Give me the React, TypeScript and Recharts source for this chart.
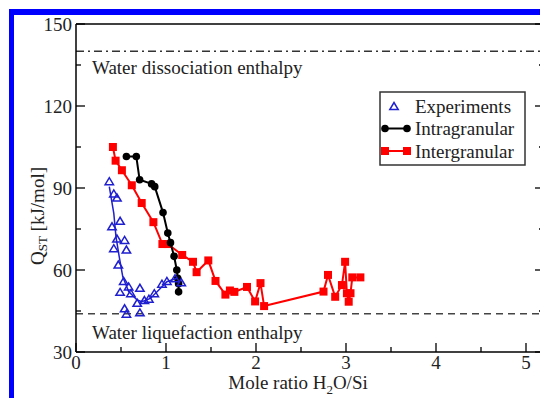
import React from 'react';
import { ComposedChart, XAxis, YAxis, Scatter, ReferenceLine } from 'recharts';

// Isosteric heat of adsorption vs. water loading
const experiments = [
  { x: 0.37, y: 92.5 }, { x: 0.42, y: 88 }, { x: 0.455, y: 86.5 }, { x: 0.4, y: 76 },
  { x: 0.49, y: 78 }, { x: 0.455, y: 71.5 }, { x: 0.54, y: 71 }, { x: 0.42, y: 68 },
  { x: 0.56, y: 67.5 }, { x: 0.47, y: 62 }, { x: 0.53, y: 56 }, { x: 0.585, y: 54 },
  { x: 0.49, y: 52 }, { x: 0.61, y: 51.5 }, { x: 0.71, y: 53.5 }, { x: 0.68, y: 48 },
  { x: 0.76, y: 49 }, { x: 0.81, y: 49.5 }, { x: 0.87, y: 51.5 }, { x: 0.54, y: 46 },
  { x: 0.56, y: 44 }, { x: 0.71, y: 44.5 }, { x: 0.955, y: 55 }, { x: 1.01, y: 56 },
  { x: 1.1, y: 57 }, { x: 1.17, y: 55.5 },
];

const experimentsFit = [
  { x: 0.37, y: 90.5 }, { x: 0.42, y: 80.7 }, { x: 0.444, y: 72.2 }, { x: 0.48, y: 64.9 },
  { x: 0.52, y: 57.5 }, { x: 0.585, y: 52.1 }, { x: 0.68, y: 49 }, { x: 0.733, y: 48.4 },
  { x: 0.826, y: 49.6 }, { x: 0.92, y: 52.7 }, { x: 1.01, y: 55.7 }, { x: 1.12, y: 57 },
];

const intragranular = [
  { x: 0.56, y: 101.5 }, { x: 0.67, y: 101.5 }, { x: 0.707, y: 93 }, { x: 0.84, y: 91.5 },
  { x: 0.875, y: 90.5 }, { x: 0.967, y: 81 }, { x: 1.02, y: 73.5 }, { x: 1.05, y: 70 },
  { x: 1.09, y: 65 }, { x: 1.12, y: 60 }, { x: 1.13, y: 57 }, { x: 1.14, y: 55 },
  { x: 1.14, y: 52 },
];

const intergranular = [
  { x: 0.41, y: 105 }, { x: 0.44, y: 100 }, { x: 0.51, y: 96.5 }, { x: 0.62, y: 91 },
  { x: 0.73, y: 84.5 }, { x: 0.86, y: 77.5 }, { x: 0.96, y: 69.5 }, { x: 1.02, y: 69.5 },
  { x: 1.18, y: 65.5 }, { x: 1.3, y: 63 }, { x: 1.34, y: 59.2 }, { x: 1.47, y: 63.5 },
  { x: 1.55, y: 56 }, { x: 1.66, y: 51 }, { x: 1.71, y: 52.5 }, { x: 1.76, y: 52 },
  { x: 1.9, y: 53.8 }, { x: 1.99, y: 48.5 }, { x: 2.05, y: 55.2 }, { x: 2.09, y: 46.8 },
  { x: 2.75, y: 52.1 }, { x: 2.8, y: 58.2 }, { x: 2.88, y: 50.2 }, { x: 2.955, y: 54.5 },
  { x: 2.99, y: 63 }, { x: 3.01, y: 51.5 }, { x: 3.03, y: 48.4 }, { x: 3.05, y: 51.5 },
  { x: 3.07, y: 57.3 }, { x: 3.16, y: 57.3 },
];

const xTicks = [0, 0.5, 1, 1.5, 2, 2.5, 3, 3.5, 4, 4.5, 5];
const yTicks = [30, 45, 60, 75, 90, 105, 120, 135, 150];
const xDomain: [number, number] = [0, 5.2];
const yDomain: [number, number] = [30, 150];

const dissociationEnthalpy = 140;
const liquefactionEnthalpy = 44;

const FONT = '"Liberation Serif", "Times New Roman", serif';
const BLUE = '#1f1fd0';
const RED = '#ff0000';
const FS = 19;

const TriangleMark = (p: any) => {
  const { cx, cy } = p;
  if (cx == null || cy == null) return <g />;
  const w = 4.2;
  const h = 7;
  return (
    <polygon
      points={`${cx - w},${cy + h / 2} ${cx + w},${cy + h / 2} ${cx},${cy - h / 2}`}
      fill="none"
      stroke={BLUE}
      strokeWidth={1.5}
    />
  );
};

const SquareMark = (p: any) => {
  const { cx, cy } = p;
  if (cx == null || cy == null) return <g />;
  const s = 8;
  return <rect x={cx - s / 2} y={cy - s / 2} width={s} height={s} fill={RED} />;
};

const CircleMark = (p: any) => {
  const { cx, cy } = p;
  if (cx == null || cy == null) return <g />;
  return <circle cx={cx} cy={cy} r={3.8} fill="#000" />;
};

const NoMark = () => <g />;

const isMajor = (v: number) => Number.isInteger(v);

const BottomTick = (p: any) => {
  const { x, y, payload } = p;
  const major = isMajor(payload.value);
  return (
    <g>
      <line x1={x} x2={x} y1={y} y2={y - (major ? 9 : 5)} stroke="#000" strokeWidth={1.3} />
      {major && (
        <text x={x} y={y + 17} textAnchor="middle" fontFamily={FONT} fontSize={FS} fill="#222">
          {payload.value}
        </text>
      )}
    </g>
  );
};

const TopTick = (p: any) => {
  const { x, y, payload } = p;
  const major = isMajor(payload.value);
  return <line x1={x} x2={x} y1={y} y2={y + (major ? 9 : 5)} stroke="#000" strokeWidth={1.3} />;
};

const LeftTick = (p: any) => {
  const { x, y, payload } = p;
  const major = payload.value % 30 === 0;
  return (
    <g>
      <line x1={x} x2={x + (major ? 9 : 5)} y1={y} y2={y} stroke="#000" strokeWidth={1.3} />
      {major && (
        <text x={x - 4} y={y} textAnchor="end" dominantBaseline="central" fontFamily={FONT} fontSize={FS} fill="#222">
          {payload.value}
        </text>
      )}
    </g>
  );
};

const RightTick = (p: any) => {
  const { x, y, payload } = p;
  const major = payload.value % 30 === 0;
  return <line x1={x} x2={x - (major ? 9 : 5)} y1={y} y2={y} stroke="#000" strokeWidth={1.3} />;
};

const XTitle = (p: any) => {
  const vb = p.viewBox;
  const cx = vb.x + vb.width / 2 - 12;
  return (
    <text x={cx} y={vb.y + 37} textAnchor="middle" fontFamily={FONT} fontSize={FS} fill="#222">
      Mole ratio H<tspan dy={5} fontSize={13}>2</tspan>
      <tspan dy={-5}>O/Si</tspan>
    </text>
  );
};

const YTitle = (p: any) => {
  const vb = p.viewBox;
  const cx = vb.x + 37;
  const cy = vb.y + vb.height / 2 + 28;
  return (
    <text
      x={cx}
      y={cy}
      transform={`rotate(-90 ${cx} ${cy})`}
      textAnchor="middle"
      dominantBaseline="central"
      fontFamily={FONT}
      fontSize={FS}
      fill="#222"
    >
      Q<tspan dy={5} fontSize={13}>ST</tspan>
      <tspan dy={-5}> [kJ/mol]</tspan>
    </text>
  );
};

const lineLabel = (text: string, dy: number) => (p: any) => {
  const vb = p.viewBox;
  return (
    <text x={vb.x + 16} y={vb.y + dy} fontFamily={FONT} fontSize={FS} fill="#222">
      {text}
    </text>
  );
};

const legendItems = [
  { name: 'Experiments', kind: 'tri' },
  { name: 'Intragranular', kind: 'circle' },
  { name: 'Intergranular', kind: 'square' },
];

const LegendBox = () => (
  <svg width={148} height={76} style={{ display: 'block' }}>
    <rect x={1} y={1} width={145} height={73} fill="#fff" stroke="#333" strokeWidth={1.5} />
    {legendItems.map((it, i) => {
      const y = 15 + i * 22.5;
      return (
        <g key={it.name}>
          {it.kind === 'tri' && <TriangleMark cx={15} cy={y} />}
          {it.kind === 'circle' && (
            <g>
              <line x1={6} x2={28} y1={y} y2={y} stroke="#000" strokeWidth={2} />
              <CircleMark cx={6} cy={y} />
              <CircleMark cx={28} cy={y} />
            </g>
          )}
          {it.kind === 'square' && (
            <g>
              <line x1={6} x2={28} y1={y} y2={y} stroke={RED} strokeWidth={2} />
              <SquareMark cx={6} cy={y} />
              <SquareMark cx={28} cy={y} />
            </g>
          )}
          <text x={36} y={y} dominantBaseline="central" fontFamily={FONT} fontSize={FS} fill="#222">
            {it.name}
          </text>
        </g>
      );
    })}
  </svg>
);

export default function App() {
  return (
    <div
      style={{
        position: 'fixed',
        left: 0,
        top: 0,
        width: 540,
        height: 398,
        overflow: 'hidden',
        background: '#fff',
      }}
    >
      <div style={{ position: 'absolute', left: 0, top: 0 }}>
        <ComposedChart
          width={560}
          height={398}
          margin={{ top: 14, right: 15, bottom: 0, left: 0 }}
        >
          <XAxis
            xAxisId="b"
            dataKey="x"
            type="number"
            domain={xDomain}
            ticks={xTicks}
            interval={0}
            allowDataOverflow
            tickSize={0}
            tickMargin={0}
            tickLine={false}
            axisLine={{ stroke: '#000', strokeWidth: 1.5 }}
            height={46}
            tick={(p: any) => <BottomTick {...p} />}
            label={{ content: XTitle }}
          />
          <XAxis
            xAxisId="t"
            orientation="top"
            type="number"
            domain={xDomain}
            ticks={xTicks}
            interval={0}
            allowDataOverflow
            tickSize={0}
            tickMargin={0}
            tickLine={false}
            axisLine={{ stroke: '#000', strokeWidth: 1.5 }}
            height={10}
            tick={(p: any) => <TopTick {...p} />}
          />
          <YAxis
            yAxisId="l"
            dataKey="y"
            type="number"
            domain={yDomain}
            ticks={yTicks}
            interval={0}
            allowDataOverflow
            tickSize={0}
            tickMargin={0}
            tickLine={false}
            axisLine={{ stroke: '#000', strokeWidth: 1.5 }}
            width={76}
            tick={(p: any) => <LeftTick {...p} />}
            label={{ content: YTitle }}
          />
          <YAxis
            yAxisId="r"
            orientation="right"
            type="number"
            domain={yDomain}
            ticks={yTicks}
            interval={0}
            allowDataOverflow
            tickSize={0}
            tickMargin={0}
            tickLine={false}
            axisLine={{ stroke: '#000', strokeWidth: 1.5 }}
            width={1}
            tick={(p: any) => <RightTick {...p} />}
          />
          <ReferenceLine
            xAxisId="b"
            yAxisId="l"
            y={dissociationEnthalpy}
            stroke="#333"
            strokeWidth={1.5}
            strokeDasharray="8 4 2 4"
            label={{ content: lineLabel('Water dissociation enthalpy', 23) }}
          />
          <ReferenceLine
            xAxisId="b"
            yAxisId="l"
            y={liquefactionEnthalpy}
            stroke="#444"
            strokeWidth={1.5}
            strokeDasharray="7 5"
            label={{ content: lineLabel('Water liquefaction enthalpy', 25) }}
          />
          <Scatter
            xAxisId="b"
            yAxisId="l"
            name="Intergranular"
            data={intergranular}
            line={{ stroke: RED, strokeWidth: 2 }}
            lineType="joint"
            shape={SquareMark}
            isAnimationActive={false}
          />
          <Scatter
            xAxisId="b"
            yAxisId="l"
            name="Intragranular"
            data={intragranular}
            line={{ stroke: '#000', strokeWidth: 2 }}
            lineType="joint"
            shape={CircleMark}
            isAnimationActive={false}
          />
          <Scatter
            xAxisId="b"
            yAxisId="l"
            name="Fit"
            data={experimentsFit}
            line={{ stroke: BLUE, strokeWidth: 1.5 }}
            lineType="joint"
            shape={NoMark}
            isAnimationActive={false}
          />
          <Scatter
            xAxisId="b"
            yAxisId="l"
            name="Experiments"
            data={experiments}
            shape={TriangleMark}
            isAnimationActive={false}
          />
        </ComposedChart>
      </div>
      <div style={{ position: 'absolute', left: 379, top: 91 }}>
        <LegendBox />
      </div>
      <div style={{ position: 'absolute', left: 9, top: 9, width: 540, height: 6, background: '#0000ff' }} />
      <div style={{ position: 'absolute', left: 9, top: 9, width: 5, height: 400, background: '#0000ff' }} />
    </div>
  );
}
